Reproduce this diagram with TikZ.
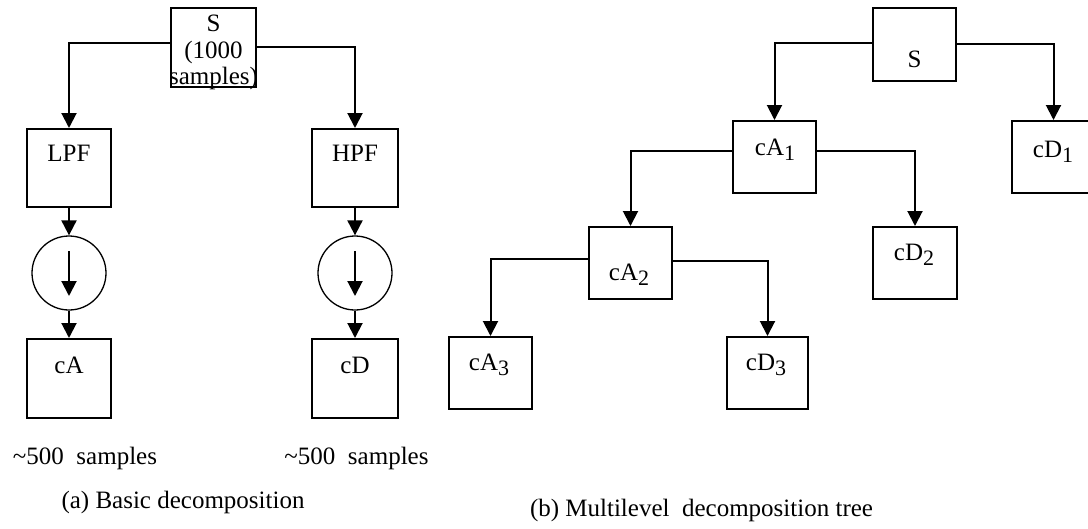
\documentclass[tikz,border=0pt]{standalone}
\usepackage{fontspec}
\setmainfont{Liberation Serif}
\usetikzlibrary{arrows.meta}
\newcommand{\sbs}[1]{\raisebox{-5pt}{\fontsize{22}{22}\selectfont #1}}
\begin{document}
\begin{tikzpicture}[x=1pt,y=-1pt,
  every node/.style={font=\fontsize{25}{26.5}\selectfont},
  box/.style={draw,line width=2pt,minimum width=#1,inner sep=0pt},
  circ/.style={draw,circle,line width=1.3pt,minimum size=74pt,inner sep=0pt},
  txt/.style={inner sep=0pt},
  conn/.style={line width=2pt,-{Triangle[length=15pt,width=15pt]}},
  plain/.style={line width=2pt}]
\useasboundingbox (0,0) rectangle (1088,528);
\clip (0,0) rectangle (1088,528);
% ---------- (a) basic decomposition ----------
\node[box=85pt,minimum height=79pt] (sl) at (213.5,47.5) {};
\node[txt,align=center] (slt) at (213.5,52.5) {S\\(1000\\samples)};
\node[box=84pt,minimum height=78pt] (lpf) at (69,168) {};
\node[txt] (lpft) at (69,153) {LPF};
\node[box=86pt,minimum height=78pt] (hpf) at (355,168) {};
\node[txt] (hpft) at (355,153) {HPF};
\node[circ] (dl) at (69,273) {};
\node[circ] (dr) at (355,273) {};
\coordinate (dlt) at (69,251); \coordinate (dlb) at (69,296);
\coordinate (drt) at (355,251); \coordinate (drb) at (355,296);
\node[box=84pt,minimum height=79pt] (ca) at (69,378.5) {};
\node[txt] (cat) at (69,365) {cA};
\node[box=86pt,minimum height=79pt] (cd) at (355,378.5) {};
\node[txt] (cdt) at (355,365) {cD};
\node[txt] (n1) at (85,458) {\textasciitilde500\ \ samples};
\node[txt] (n2) at (356.5,458) {\textasciitilde500\ \ samples};
\node[txt] (capa) at (183,502) {(a) Basic decomposition};
% connectors (a)
\draw[conn] (sl.west |- 0,43) -| (lpf.north);
\draw[conn] (sl.east |- 0,47) -| (hpf.north);
\draw[conn] (lpf.south) -- (dl.north);
\draw[conn] (hpf.south) -- (dr.north);
\draw[conn] (dlt) -- (dlb);
\draw[conn] (drt) -- (drb);
\draw[conn] (dl.south) -- (ca.north);
\draw[conn] (dr.south) -- (cd.north);
% ---------- (b) multilevel tree ----------
\node[box=83pt,minimum height=73pt] (s) at (914.5,44.5) {};
\node[txt] (st) at (914.5,59) {S};
\node[box=83pt,minimum height=72pt] (ca1) at (774.5,157) {};
\node[txt] (ca1t) at (775,150) {cA\sbs{1}};
\node[box=83pt,minimum height=72pt] (cd1) at (1053.5,157) {};
\node[txt] (cd1t) at (1053,152) {cD\sbs{1}};
\node[box=83pt,minimum height=72pt] (ca2) at (630.5,263) {};
\node[txt] (ca2t) at (629,275) {cA\sbs{2}};
\node[box=84pt,minimum height=72pt] (cd2) at (915,263) {};
\node[txt] (cd2t) at (914,255) {cD\sbs{2}};
\node[box=83pt,minimum height=72pt] (ca3) at (490.5,373) {};
\node[txt] (ca3t) at (489,365) {cA\sbs{3}};
\node[box=81pt,minimum height=72pt] (cd3) at (767.5,373) {};
\node[txt] (cd3t) at (766,365) {cD\sbs{3}};
\node[txt] (capb) at (701.5,510) {(b) Multilevel\ \ decomposition tree};
% connectors (b)
\draw[conn] (s.west |- 0,43) -| (ca1.north);
\draw[conn] (s.east |- 0,44) -| (cd1.north);
\draw[conn] (ca1.west |- 0,151) -| (ca2.north);
\draw[conn] (ca1.east |- 0,151) -| (cd2.north);
\draw[conn] (ca2.west |- 0,259) -| (ca3.north);
\draw[conn] (ca2.east |- 0,261) -| (cd3.north);
\end{tikzpicture}
\end{document}
